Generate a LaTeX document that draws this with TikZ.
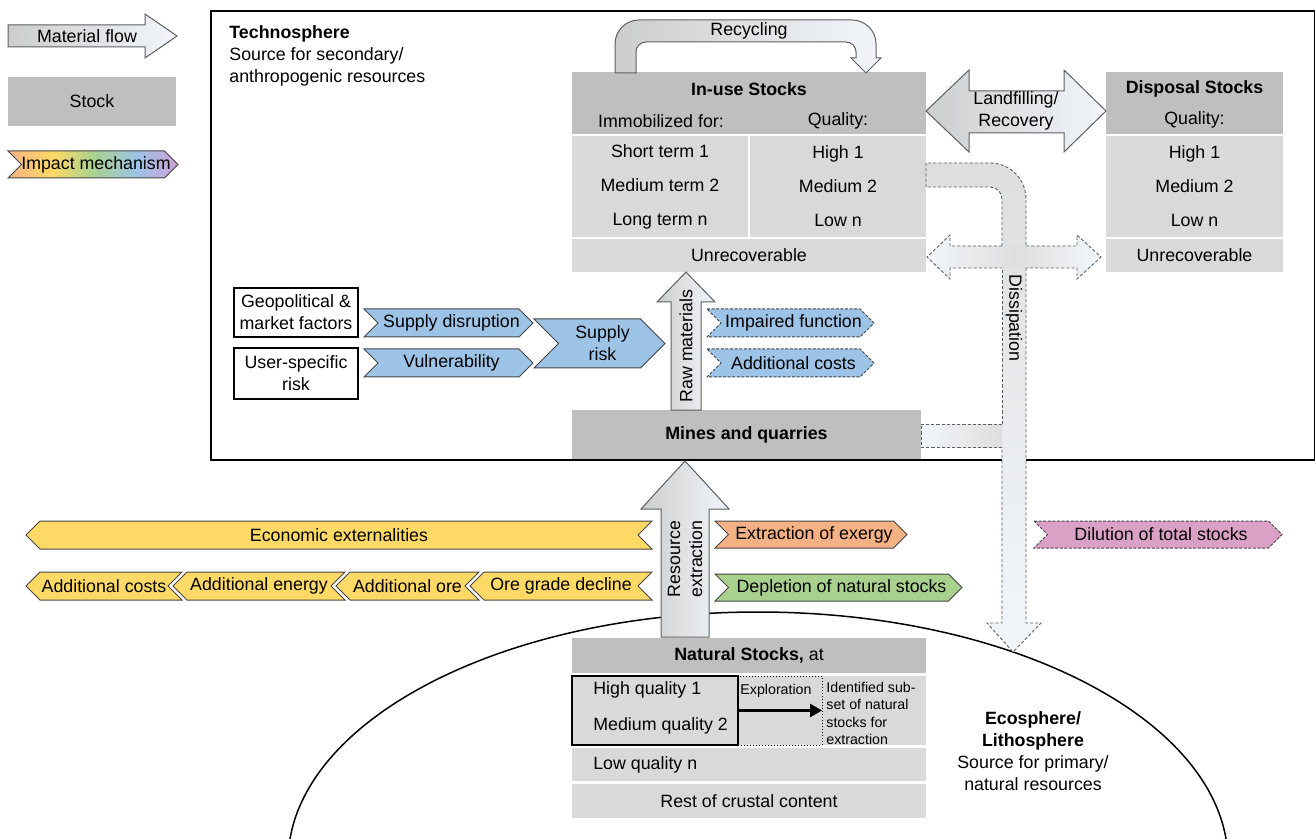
\documentclass[tikz,border=0pt]{standalone}
\usepackage{fontspec}
\setmainfont{Liberation Sans}
\usetikzlibrary{positioning,calc,arrows.meta}

\definecolor{headgray}{RGB}{191,191,191}
\definecolor{cellgray}{RGB}{217,217,217}
\definecolor{flowedge}{RGB}{95,95,95}
\definecolor{flowdark}{RGB}{205,205,205}
\definecolor{flowlight}{RGB}{242,246,251}
\definecolor{lossgray}{RGB}{222,222,222}
\definecolor{riskblue}{RGB}{157,195,230}
\definecolor{econyellow}{RGB}{255,217,102}
\definecolor{exergyorange}{RGB}{244,177,131}
\definecolor{depletegreen}{RGB}{169,209,142}
\definecolor{dilutepink}{RGB}{218,160,198}
\definecolor{legendpurple}{RGB}{205,160,215}

\pgfdeclarehorizontalshading{impactrainbow}{100bp}{color(0bp)=(exergyorange); color(25bp)=(exergyorange); color(38bp)=(econyellow); color(50bp)=(depletegreen); color(63bp)=(riskblue); color(75bp)=(legendpurple); color(100bp)=(legendpurple)}

\tikzset{
  cell/.style={inner sep=0pt, outer sep=0pt},
  headcell/.style={cell, fill=headgray},
  bodycell/.style={cell, fill=cellgray},
  rowtext/.style={align=center, font=\fontsize{8.9}{17}\selectfont},
  factor/.style={draw=black, line width=0.7pt, inner sep=0pt, align=center},
  flow/.style={draw=flowedge, line width=0.5pt, left color=flowdark, right color=flowlight},
  lossline/.style={draw=gray!75!black, line width=0.45pt, dash pattern=on 1.6pt off 1pt},
  impact/.style={draw=gray!55!black, line width=0.5pt},
  potential/.style={dash pattern=on 1.5pt off 0.8pt},
  smalltext/.style={font=\fontsize{7.1}{8.8}\selectfont, inner sep=0pt, align=left},
  explorearrow/.style={line width=1.4pt, -{Triangle[length=6pt,width=6.5pt]}},
}

% chevron pointing right: style, name, left x, right x, top y, bottom y, text
\newcommand{\impactright}[7]{%
  \draw[#1] (#3,#5) -- ({#4-(#6-#5)/2},#5) -- (#4,{(#5+#6)/2}) -- ({#4-(#6-#5)/2},#6)
    -- (#3,#6) -- ({#3+(#6-#5)/2},{(#5+#6)/2}) -- cycle;
  \node[align=center] (#2) at ({(#3+#4)/2+3},{(#5+#6)/2}) {#7};}
% chevron pointing left
\newcommand{\impactleft}[7]{%
  \draw[#1] (#3,{(#5+#6)/2}) -- ({#3+(#6-#5)/2},#5) -- (#4,#5) -- ({#4-(#6-#5)/2},{(#5+#6)/2})
    -- (#4,#6) -- ({#3+(#6-#5)/2},#6) -- cycle;
  \node[align=center] (#2) at ({(#3+#4)/2},{(#5+#6)/2}) {#7};}

\begin{document}
\fontsize{8.9}{11}\selectfont
\begin{tikzpicture}[x=0.5pt,y=-0.5pt]
\useasboundingbox (0,0) rectangle (1316,839);
%
% legend
\draw[flow] (8,25) -- (145,25) -- (145,14) -- (177,36) -- (145,58) -- (145,47) -- (8,47) -- cycle;
\node (legflow) at (87,36) {Material flow};
\node[headcell, minimum width=84pt, minimum height=24.5pt] (legstock) at (92,101.5) {Stock};
\impactright{impact, shade, shading=impactrainbow}{legimpact}{8}{178}{151}{178}{Impact mechanism}
%
% ecosphere
\begin{scope}
  \clip (0,0) rectangle (1316,839);
  \draw[line width=0.75pt] (758,862) ellipse [x radius=470, y radius=250];
\end{scope}
\node[align=center] (ecolabel) at (1033,751) {\textbf{Ecosphere/}\\\textbf{Lithosphere}\\Source for primary/\\natural resources};
%
% natural stocks
\node[headcell, minimum width=177pt, minimum height=17.5pt] (nathead) at (749,655.5) {\textbf{Natural Stocks,} at};
\node[bodycell, minimum width=177pt, minimum height=34.5pt] (natrow) at (749,710.5) {};
\node[cell, draw=black, line width=0.7pt, minimum width=83pt, minimum height=34.5pt] (natquality) at (655,710.5) {};
\node[anchor=west, align=left, font=\fontsize{8.9}{18}\selectfont] (natqualtext) at (587,708) {High quality 1\\Medium quality 2};
\node[cell, draw=black, densely dotted, line width=0.5pt, minimum width=42pt, minimum height=34.5pt] (explore) at (780,710.5) {};
\node[smalltext] (explorelabel) at (776,691) {Exploration};
\draw[explorearrow] (explore.west) -- (explore.east);
\node[smalltext, anchor=west] (identified) at (826,713.5) {Identified sub-\\set of natural\\stocks for\\extraction};
\node[bodycell, minimum width=177pt, minimum height=16.5pt, below=1.5pt of natrow] (natlow) {};
\node[anchor=west] (natlowtext) at (587,764.5) {Low quality n};
\node[bodycell, minimum width=177pt, minimum height=17pt, below=1.5pt of natlow] (natrest) {Rest of crustal content};
%
% in-use stocks
\node[headcell, minimum width=177pt, minimum height=31pt] (inusehead) at (749,103.5) {};
\node[font=\bfseries] (inusetitle) at (749,89) {In-use Stocks};
\node (inuseimmob) at (661,121) {Immobilized for:};
\node (inusequal) at (838,121) {Quality:};
\node[bodycell, rowtext, minimum width=88pt, minimum height=50.5pt] (inuseterm) at (660,186.5) {Short term 1\\Medium term 2\\Long term n};
\node[bodycell, rowtext, minimum width=88pt, minimum height=50.5pt, right=1pt of inuseterm] (inusegrade) {High 1\\Medium 2\\Low n};
\node[bodycell, minimum width=177pt, minimum height=16.5pt] (inuseunrec) at (749,255.5) {Unrecoverable};
%
% disposal stocks
\node[headcell, minimum width=88.5pt, minimum height=31pt] (disphead) at (1194.5,103.5) {};
\node[font=\bfseries] (disptitle) at (1194.5,89) {Disposal Stocks};
\node (dispqual) at (1194.5,120) {Quality:};
\node[bodycell, rowtext, minimum width=88.5pt, minimum height=50.5pt] (dispgrade) at (1194.5,186.5) {High 1\\Medium 2\\Low n};
\node[bodycell, minimum width=88.5pt, minimum height=16.5pt] (dispunrec) at (1194.5,255.5) {Unrecoverable};
%
% mines
\node[headcell, minimum width=174.5pt, minimum height=25pt, font=\bfseries] (mines) at (746.5,435) {Mines and quarries};
%
% technosphere
\draw[line width=0.75pt] (211,11) rectangle (1314.5,460);
\node[anchor=north west, align=left, inner sep=0pt] (techlabel) at (229,25) {\textbf{Technosphere}\\Source for secondary/\\anthropogenic resources};
%
% material flows
\draw[flow] (615,73) -- (615,44) arc[start angle=180,end angle=270,radius=24] -- (852,20)
  arc[start angle=270,end angle=360,radius=24] -- (876,58) -- (881,58) -- (866,73) -- (851,58)
  -- (856,58) -- (856,52) arc[start angle=0,end angle=-90,radius=10] -- (646,42)
  arc[start angle=270,end angle=180,radius=10] -- (636,73) -- cycle;
\node (recyclabel) at (749,31) {Recycling};
\draw[flow] (926,111) -- (969,70) -- (969,91) -- (1064,91) -- (1064,70) -- (1106,111) -- (1064,152)
  -- (1064,133) -- (969,133) -- (969,152) -- cycle;
\node[align=center] (landfill) at (1016,111) {Landfilling/\\Recovery};
\draw[flow] (671,410) -- (671,302) -- (657,302) -- (686,272) -- (715,302) -- (701,302) -- (701,410) -- cycle;
\node[rotate=90] (rawlabel) at (686,346) {Raw materials};
\draw[flow] (661,637) -- (661,509) -- (641,509) -- (685,461) -- (729,509) -- (709,509) -- (709,637) -- cycle;
\node[rotate=90, align=center] (extractlabel) at (685,559) {Resource\\extraction};
%
% dissipation
\shade[top color=lossgray, bottom color=flowlight] (926,163) -- (990,163) arc[start angle=270,end angle=360,radius=36]
  -- (1026,623) -- (1041,623) -- (1013,652) -- (987,623) -- (1002,623) -- (1002,199)
  arc[start angle=0,end angle=-90,radius=12] -- (926,187) -- cycle;
\shade[left color=flowlight, right color=lossgray] (921,424) rectangle (1002,447);
\shade[left color=flowlight, right color=flowlight, middle color=lossgray] (927,257) -- (950,235) -- (950,246)
  -- (1077,246) -- (1077,235) -- (1101,257) -- (1077,279) -- (1077,268) -- (950,268) -- (950,279) -- cycle;
\draw[lossline] (926,187) -- (926,163) -- (990,163) arc[start angle=270,end angle=360,radius=36] -- (1026,246);
\draw[lossline] (1026,268) -- (1026,623) -- (1041,623) -- (1013,652) -- (987,623) -- (1002,623) -- (1002,447);
\draw[lossline] (1002,424) -- (1002,268);
\draw[lossline] (1002,246) -- (1002,199) arc[start angle=0,end angle=-90,radius=12] -- (926,187);
\draw[lossline] (1002,246) -- (950,246) -- (950,235) -- (927,257) -- (950,279) -- (950,268) -- (1002,268);
\draw[lossline] (1026,246) -- (1077,246) -- (1077,235) -- (1101,257) -- (1077,279) -- (1077,268) -- (1026,268);
\draw[lossline] (1002,424) -- (921,424) -- (921,447) -- (1002,447);
\node[rotate=-90] (dissiplabel) at (1014,318) {Dissipation};
%
% supply risk
\node[factor, minimum width=62pt, minimum height=24.5pt] (geo) at (296,312.5) {Geopolitical \&\\market factors};
\node[factor, minimum width=62pt, minimum height=25.5pt] (user) at (296,373.5) {User-specific\\risk};
\impactright{impact, fill=riskblue}{supdis}{364}{533}{309}{337}{Supply disruption}
\impactright{impact, fill=riskblue}{vuln}{364}{533}{349}{377}{Vulnerability}
\impactright{impact, fill=riskblue}{suprisk}{534}{665}{319}{368}{Supply\\risk}
\impactright{impact, potential, fill=riskblue}{impair}{707}{874}{309}{337}{Impaired function}
\impactright{impact, potential, fill=riskblue}{addcostuse}{707}{874}{349}{377}{Additional costs}
%
% extraction impacts
\impactleft{impact, fill=econyellow}{econext}{26}{652}{521}{549}{Economic externalities}
\impactleft{impact, fill=econyellow}{addcost}{26}{182}{572}{600}{Additional costs}
\impactleft{impact, fill=econyellow}{addenergy}{173}{345}{572}{600}{Additional energy}
\impactleft{impact, fill=econyellow}{addore}{336}{479}{572}{600}{Additional ore}
\impactleft{impact, fill=econyellow}{oregrade}{470}{652}{572}{600}{Ore grade decline}
\impactright{impact, fill=exergyorange}{exergy}{715}{907}{521}{548}{Extraction of exergy}
\impactright{impact, fill=depletegreen}{depletion}{715}{962}{574}{601}{Depletion of natural stocks}
\impactright{impact, potential, fill=dilutepink}{dilution}{1034}{1282}{521}{548}{Dilution of total stocks}
\end{tikzpicture}
\end{document}
